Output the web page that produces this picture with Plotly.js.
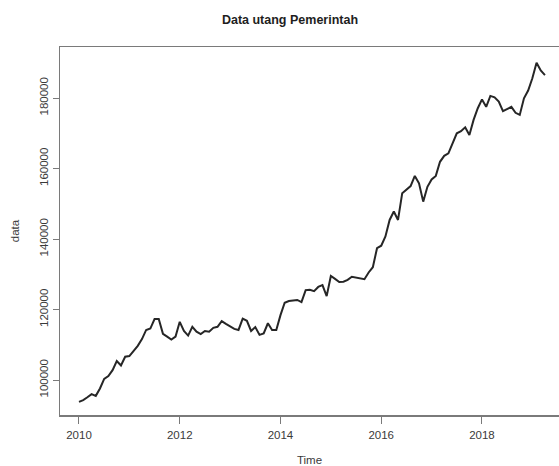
<!DOCTYPE html>
<html>
<head>
<meta charset="utf-8">
<script src="https://cdn.plot.ly/plotly-3.0.1.min.js"></script>
<style>
  html, body { margin: 0; padding: 0; background: #ffffff; }
  #chart { width: 559px; height: 466px; }
</style>
</head>
<body>
<div id="chart"></div>
<script>
// Monthly series, starting January 2010 (frequency 12)
const startYear = 2010;
const values2010 = [93800, 94300, 95100, 96000, 95500, 97600, 100300, 101100, 102800, 105400, 104100, 106600];
const values2011 = [106800, 108200, 109700, 111600, 114200, 114600, 117300, 117300, 113100, 112300, 111500, 112300];
const values2012 = [116500, 113900, 112600, 115100, 113700, 113000, 113900, 113700, 114800, 115100, 116700, 115900];
const values2013 = [115100, 114500, 114200, 117400, 116800, 113900, 115000, 112800, 113200, 116100, 114200, 114200];
const values2014 = [118400, 121900, 122400, 122600, 122700, 122100, 125500, 125600, 125200, 126400, 126900, 123800];
const values2015 = [129500, 128700, 127800, 127900, 128400, 129300, 129100, 128700, 128600, 130500, 132000, 137400];
const values2016 = [138100, 140700, 145400, 147800, 145400, 153000, 153900, 155000, 157900, 155800, 150600, 154800];
const values2017 = [156900, 157900, 161900, 163600, 164300, 167200, 170000, 170600, 171700, 169500, 173800, 177100];
const values2018 = [179600, 177500, 180600, 180200, 179000, 176300, 176800, 177500, 175800, 175200, 179900, 182100];
const values2019 = [185600, 190000, 187800, 186500];

const tickYears = [2010, 2012, 2014, 2016, 2018];
const tickYearLabels = ["2010", "2012", "2014", "2016", "2018"];
const tickValues = [100000, 120000, 140000, 160000, 180000];
const tickValueLabels = ["100000", "120000", "140000", "160000", "180000"];

const data = [].concat(values2010, values2011, values2012, values2013, values2014,
                       values2015, values2016, values2017, values2018, values2019);
const time = data.map((_, i) => startYear + i / 12);

const fontFam = '"Liberation Sans", Arial, Helvetica, sans-serif';
const axisCol = '#7a7a7a';
const textCol = '#3a3a3a';

const trace = {
  x: time,
  y: data,
  type: 'scatter',
  mode: 'lines',
  line: { color: '#262626', width: 2 },
  hoverinfo: 'x+y'
};

const layout = {
  width: 559,
  height: 466,
  margin: { l: 60, r: 0, t: 47, b: 51, pad: 0 },
  paper_bgcolor: '#ffffff',
  plot_bgcolor: '#ffffff',
  showlegend: false,
  font: { family: fontFam, size: 11.5, color: textCol },
  title: {
    text: '<b>Data utang Pemerintah</b>',
    font: { family: fontFam, size: 12.5, color: '#1e1e1e' },
    xref: 'container', x: 290 / 559, xanchor: 'center',
    yref: 'container', y: 1 - 20 / 466, yanchor: 'middle'
  },
  xaxis: {
    range: [2009.623, 2019.529],
    tickvals: tickYears,
    ticktext: tickYearLabels,
    ticks: 'outside', ticklen: 7, tickwidth: 1, tickcolor: axisCol,
    ticklabelstandoff: 2,
    showline: true, linecolor: axisCol, linewidth: 1.5,
    mirror: true,
    showgrid: false, zeroline: false,
    tickfont: { family: fontFam, size: 11.5, color: textCol },
    title: { text: 'Time', font: { family: fontFam, size: 11.5, color: textCol }, standoff: 18 }
  },
  yaxis: {
    range: [90070, 194470],
    tickvals: tickValues,
    ticktext: tickValueLabels,
    tickangle: -90,
    ticks: 'outside', ticklen: 6, tickwidth: 1, tickcolor: axisCol,
    showline: true, linecolor: axisCol, linewidth: 1.5,
    mirror: false,
    showgrid: false, zeroline: false,
    tickfont: { family: fontFam, size: 11.5, color: textCol },
    title: { text: 'data', font: { family: fontFam, size: 11.5, color: textCol }, standoff: 16 }
  }
};

Plotly.newPlot('chart', [trace], layout, { displayModeBar: false, staticPlot: true });
</script>
</body>
</html>
